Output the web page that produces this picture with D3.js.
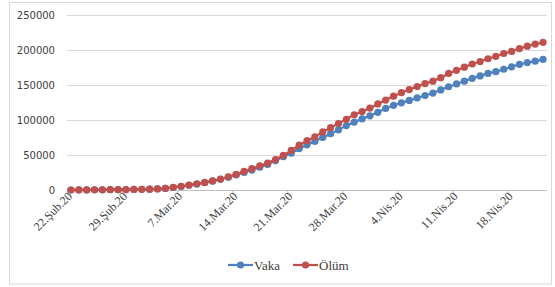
<!DOCTYPE html>
<html>
<head>
<meta charset="utf-8" />
<style type="text/css">
	*{margin:0px;padding:0px;}
	body{background:#fff;}
	svg{display:block;}
</style>
</head>
<body>
<script src="https://cdn.jsdelivr.net/npm/d3@7"></script>
<script type="text/javascript">

	// daily series, 22 Feb 2020 .. 22 Apr 2020
	var vaka = [0, 100, 150, 200, 300, 400, 500, 650, 800, 950,
		1200, 1600, 2300, 3600, 5000, 6700, 8500, 10400, 12600, 15200,
		18300, 21600, 25000, 28500, 32500, 36500, 42000, 47500, 52500, 59000,
		64500, 69500, 75000, 80500, 86000, 92000, 97000, 101500, 106000, 111000,
		116500, 121000, 124500, 128000, 131500, 135000, 138500, 143000, 147500, 151500,
		155500, 159500, 163000, 166500, 169000, 172500, 176000, 179500, 182000, 184000,
		186500];
	var olum = [0, 100, 150, 200, 300, 400, 500, 650, 800, 950,
		1200, 1600, 2400, 3800, 5300, 7000, 8900, 10800, 13000, 15700,
		18900, 22400, 26500, 30500, 34500, 38500, 43500, 49500, 56500, 64000,
		70500, 76000, 83000, 89000, 95000, 101000, 107500, 112000, 117000, 123000,
		128500, 134000, 139000, 143500, 147800, 152000, 155500, 160500, 166500, 171000,
		175500, 180000, 183500, 187500, 191000, 195000, 198000, 202000, 205500, 208500,
		211000];
	var tickLabels = ["22.Şub.20", "29.Şub.20", "7.Mar.20", "14.Mar.20", "21.Mar.20",
		"28.Mar.20", "4.Nis.20", "11.Nis.20", "18.Nis.20"];
	var yTicks = [0, 50000, 100000, 150000, 200000, 250000];
	var seriesNames = ["Vaka", "Ölüm"];
	var seriesColors = ["#4F81BD", "#C0504D"];

	var W = 555, H = 287;
	var svg = d3.select("body").append("svg").attr("width", W).attr("height", H);

	// outer frame
	svg.append("rect").attr("x", 9.5).attr("y", 2.5).attr("width", 542).attr("height", 281.5)
		.attr("fill", "#fff").attr("stroke", "#D9D9D9").attr("stroke-width", 1);

	var n = vaka.length;
	var x = d3.scaleLinear().domain([0, n]).range([67, 547]);
	var y = d3.scaleLinear().domain([0, 250000]).range([190, 15]);

	// gridlines
	svg.selectAll(".grid").data(yTicks.slice(1)).enter().append("line")
		.attr("x1", x(0)).attr("x2", x(n))
		.attr("y1", function(d){return Math.round(y(d)) + 0.5})
		.attr("y2", function(d){return Math.round(y(d)) + 0.5})
		.attr("stroke", "#D9D9D9").attr("stroke-width", 1);

	// y labels
	svg.selectAll(".ylab").data(yTicks).enter().append("text")
		.attr("x", 55).attr("y", function(d){return y(d) + 3.5})
		.attr("text-anchor", "end")
		.attr("font-family", "DejaVu Sans").attr("font-size", "10px")
		.attr("fill", "#404040")
		.text(function(d){return d});

	// x axis
	var tickIdx = tickLabels.map(function(d, i){return i * 7});
	var xAxis = d3.axisBottom(x).tickValues(tickIdx).tickSize(4).tickFormat("");
	var gx = svg.append("g").attr("transform", "translate(0," + (Math.round(y(0)) + 0.5) + ")").call(xAxis);
	gx.select(".domain").attr("stroke", "#BFBFBF").attr("d", "M" + x(0) + ",0H" + x(n));
	gx.selectAll(".tick line").attr("stroke", "#BFBFBF");

	svg.selectAll(".xlab").data(tickLabels).enter().append("text")
		.attr("transform", function(d, i){return "translate(" + (x(tickIdx[i] + 0.5) + 2) + ",197) rotate(-45)"})
		.attr("text-anchor", "end")
		.attr("font-family", "'Liberation Serif', serif").attr("font-size", "12px")
		.attr("fill", "#404040")
		.text(function(d){return d});

	// series
	var line = d3.line()
		.x(function(d, i){return x(i + 0.5)})
		.y(function(d){return y(d)});

	[vaka, olum].forEach(function(s, k){
		svg.append("path").datum(s)
			.attr("d", line)
			.attr("fill", "none")
			.attr("stroke", seriesColors[k])
			.attr("stroke-width", 2.25);
		svg.append("g").selectAll("circle").data(s).enter().append("circle")
			.attr("cx", function(d, i){return x(i + 0.5)})
			.attr("cy", function(d){return y(d)})
			.attr("r", 3.6)
			.attr("fill", seriesColors[k]);
	});

	// legend
	var legX = [228, 293];
	seriesNames.forEach(function(name, k){
		var g = svg.append("g").attr("transform", "translate(" + legX[k] + ",265)");
		g.append("line").attr("x1", 0).attr("x2", 25).attr("y1", 0).attr("y2", 0)
			.attr("stroke", seriesColors[k]).attr("stroke-width", 2.25);
		g.append("circle").attr("cx", 12.5).attr("cy", 0).attr("r", 3.6).attr("fill", seriesColors[k]);
		g.append("text").attr("x", 26).attr("y", 4.5)
			.attr("font-family", "'Liberation Serif', serif").attr("font-size", "13px")
			.attr("fill", "#404040")
			.text(name);
	});

</script>
</body>
</html>
